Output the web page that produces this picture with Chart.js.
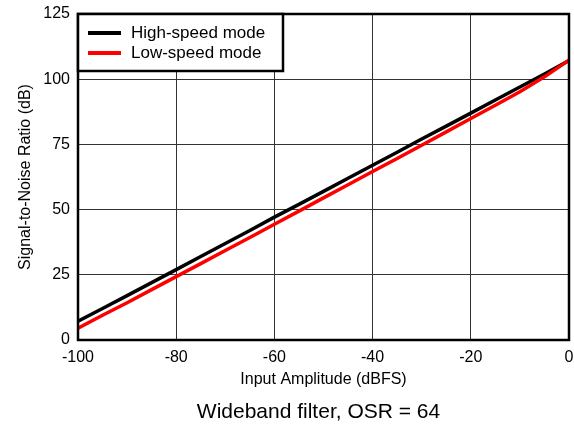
<!DOCTYPE html>
<html><head><meta charset="utf-8">
<script src="https://cdn.jsdelivr.net/npm/chart.js@4"></script>
<style>html,body{margin:0;padding:0;background:#fff}#wrap{width:574px;height:424px}</style>
</head><body><div id="wrap"><canvas id="c"></canvas></div>
<script>
const xValues = [-100,-95,-90,-85,-80,-75,-70,-65,-60,-55,-50,-45,-40,-35,-30,-25,-20,-15,-10,-5,0];
const highSpeed = [7.2,12.1,17.0,22.0,27.0,32.0,37.0,42.0,47.1,52.0,57.0,62.0,67.0,72.0,77.1,82.0,87.0,92.0,97.0,102.0,107.2];
const lowSpeed  = [4.5,9.5,14.3,19.3,24.3,29.3,34.3,39.3,44.4,49.4,54.5,59.5,64.6,69.6,74.7,79.8,84.9,90.0,95.2,100.9,107.3];
const seriesNames = ['High-speed mode','Low-speed mode'];
const seriesColors = ['#000000','#ff0000'];
const xTicks = [-100,-80,-60,-40,-20,0];
const yTicks = [0,25,50,75,100,125];
const xTitle = 'Input Amplitude (dBFS)';
const yTitle = 'Signal-to-Noise Ratio (dB)';
const caption = 'Wideband filter, OSR = 64';
const FONT = 'Arial, "Liberation Sans", sans-serif';

const mk = (arr)=>xValues.map((x,i)=>({x:x,y:arr[i]}));

const overlay = {
  id:'overlay',
  afterDraw(chart){
    const ctx=chart.ctx, a=chart.chartArea;
    ctx.save();
    // plot border
    ctx.strokeStyle='#000'; ctx.lineWidth=2.5;
    ctx.strokeRect(a.left,a.top,a.right-a.left,a.bottom-a.top);
    // legend box
    const lx=a.left, ly=a.top, lw=205, lh=57;
    ctx.fillStyle='#fff'; ctx.fillRect(lx,ly,lw,lh);
    ctx.lineWidth=2.5; ctx.strokeRect(lx,ly,lw,lh);
    ctx.font='17px '+FONT; ctx.textBaseline='middle'; ctx.textAlign='left';
    const ds=chart.data.datasets.slice().sort((p,q)=>seriesNames.indexOf(p.label)-seriesNames.indexOf(q.label));
    ds.forEach((d,i)=>{
      const yy=ly+19+i*20;
      ctx.strokeStyle=d.borderColor; ctx.lineWidth=4;
      ctx.beginPath(); ctx.moveTo(lx+10,yy); ctx.lineTo(lx+43,yy); ctx.stroke();
      ctx.fillStyle='#000'; ctx.fillText(d.label,lx+53,yy);
    });
    // caption
    ctx.font='21px '+FONT; ctx.textAlign='center'; ctx.textBaseline='middle';
    ctx.fillStyle='#000';
    ctx.fillText(caption,(a.left+a.right)/2-5,412);
    ctx.restore();
  }
};

new Chart(document.getElementById('c'),{
  type:'line',
  data:{datasets:[
    {label:seriesNames[0],data:mk(highSpeed),borderColor:seriesColors[0],borderWidth:3.5,pointRadius:0,tension:0,order:1},
    {label:seriesNames[1],data:mk(lowSpeed),borderColor:seriesColors[1],borderWidth:3.5,pointRadius:0,tension:0,order:0}
  ]},
  options:{
    responsive:true,maintainAspectRatio:false,animation:false,
    layout:{padding:{left:0,right:5,top:14,bottom:34}},
    plugins:{legend:{display:false},tooltip:{enabled:false}},
    scales:{
      x:{type:'linear',min:-100,max:0,
        afterBuildTicks:(s)=>{s.ticks=xTicks.map(v=>({value:v}));},
        afterFit:(s)=>{s.height=50;s.paddingRight=0;s.paddingLeft=0;},
        grid:{color:'#333',lineWidth:1,drawTicks:false},
        border:{display:false},
        ticks:{color:'#000',font:{family:FONT,size:16},padding:8,maxRotation:0},
        title:{display:true,text:xTitle,color:'#000',font:{family:FONT,size:16},padding:{top:0,bottom:1}}
      },
      y:{min:0,max:125,
        afterBuildTicks:(s)=>{s.ticks=yTicks.map(v=>({value:v}));},
        afterFit:(s)=>{s.width=78;s.paddingTop=0;s.paddingBottom=0;},
        grid:{color:'#333',lineWidth:1,drawTicks:false},
        border:{display:false},
        ticks:{color:'#000',font:{family:FONT,size:16},padding:8},
        title:{display:true,text:yTitle,color:'#000',font:{family:FONT,size:16},padding:{top:16,bottom:0}}
      }
    }
  },
  plugins:[overlay]
});
</script></body></html>
